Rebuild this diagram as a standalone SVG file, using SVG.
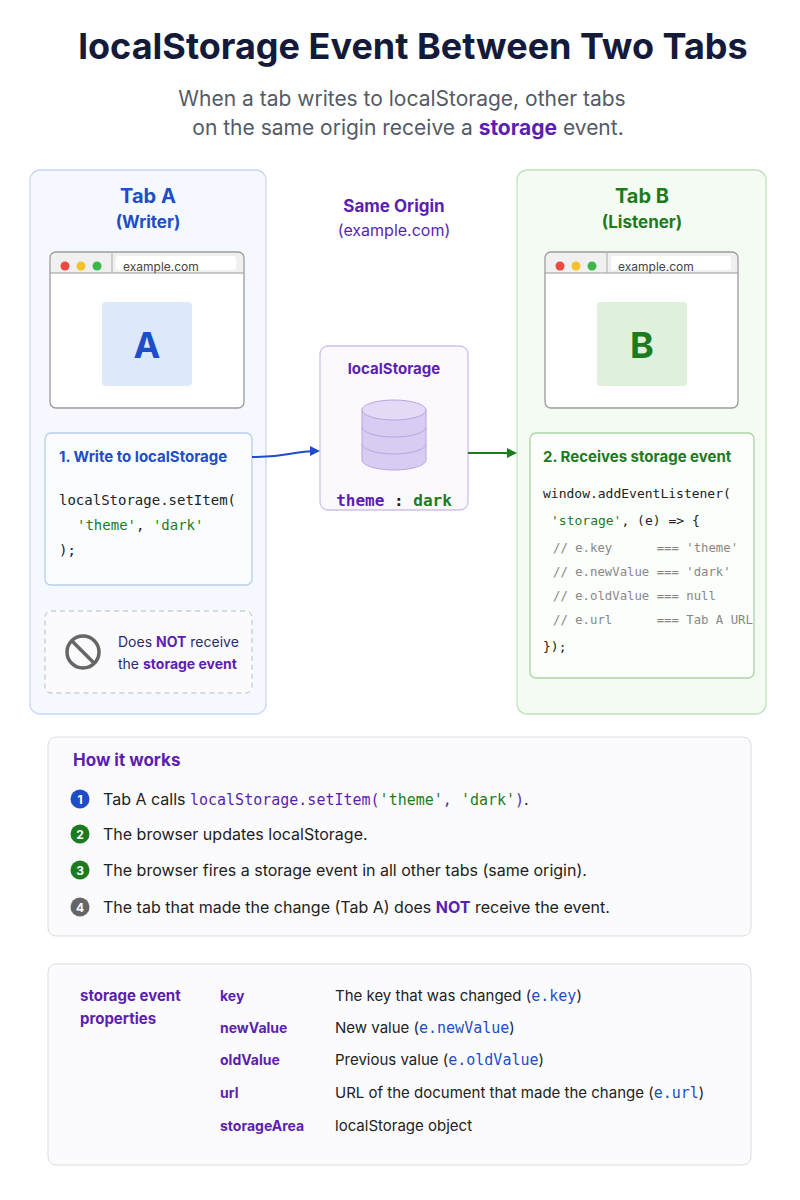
<svg xmlns="http://www.w3.org/2000/svg" width="800" height="1200" viewBox="0 0 800 1200">
<style>
text{font-family:Inter,"Liberation Sans",sans-serif;}
.mono{font-family:"DejaVu Sans Mono","Liberation Mono",monospace;}
.title{font-size:36px;font-weight:700;fill:#141a3a;text-anchor:middle}
.sub{font-size:21px;fill:#555a66;text-anchor:middle}
.pur{fill:#5b1fb0;font-weight:700}
.blue{fill:#1d4ec7}
.green{fill:#1e7a1e}
.code{font-size:14px;fill:#222}
.str{fill:#1e7a1e}
.cmt{fill:#888;font-size:12.3px}
.body{font-size:16px;fill:#222}
.win{fill:#fff;stroke:#9a9a9a;stroke-width:1.3}
.bar{fill:#f0f0f0}
.url{font-size:12px;fill:#444}
</style>
<defs>
<marker id="ab" markerWidth="10" markerHeight="10" refX="8" refY="5" orient="auto" markerUnits="userSpaceOnUse"><path d="M0,0 L10,5 L0,10 z" fill="#1d4ec7"/></marker>
<marker id="ag" markerWidth="10" markerHeight="10" refX="8" refY="5" orient="auto" markerUnits="userSpaceOnUse"><path d="M0,0 L10,5 L0,10 z" fill="#1e7a1e"/></marker>
</defs>
<rect width="800" height="1200" fill="#fff"/>
<text class="title" x="413" y="59">localStorage Event Between Two Tabs</text>
<text class="sub" x="402" y="106">When a tab writes to localStorage, other tabs</text>
<text class="sub" x="408" y="135">on the same origin receive a <tspan class="pur">storage</tspan> event.</text>

<g id="tabA">
<rect x="30" y="170" width="236" height="544" rx="10" fill="#f5f8fe" stroke="#c9d8f3" stroke-width="1.3"/>
<text x="148" y="203" text-anchor="middle" font-size="20" font-weight="700" class="blue">Tab A</text>
<text x="148" y="228" text-anchor="middle" font-size="17" font-weight="700" class="blue">(Writer)</text>
<rect class="win" x="50" y="252" width="194" height="156" rx="6"/>
<path d="M51,273 V258 a5,5 0 0 1 5,-5 H238 a5,5 0 0 1 5,5 V273 z" class="bar"/>
<line x1="50" y1="273" x2="244" y2="273" stroke="#9a9a9a"/>
<line x1="112" y1="253" x2="112" y2="273" stroke="#aaa"/>
<rect x="116" y="256" width="120" height="14" rx="3" fill="#fff"/>
<circle cx="65" cy="266" r="4.5" fill="#ea4a3f"/><circle cx="81" cy="266" r="4.5" fill="#f5c12e"/><circle cx="97" cy="266" r="4.5" fill="#3cb84a"/>
<text class="url" x="123" y="271">example.com</text>
<rect x="102" y="302" width="90" height="84" rx="4" fill="#dde8fa"/>
<text x="147" y="358" text-anchor="middle" font-size="36" font-weight="700" class="blue">A</text>
</g>

<g id="writeBox">
<rect x="45" y="433" width="207" height="152" rx="6" fill="#fafcff" stroke="#b9cdef" stroke-width="1.3"/>
<text x="59" y="462" font-size="15" font-weight="700" class="blue">1. Write to localStorage</text>
<text class="mono code" x="59" y="505">localStorage.setItem(</text>
<text class="mono code" x="77" y="530"><tspan class="str">'theme'</tspan>, <tspan class="str">'dark'</tspan></text>
<text class="mono code" x="59" y="555">);</text>
</g>

<g id="notReceive">
<rect x="45" y="611" width="207" height="82" rx="6" fill="#fbfbfd" stroke="#bbb" stroke-dasharray="5,4"/>
<circle cx="83" cy="652" r="16" fill="none" stroke="#666" stroke-width="3.5"/>
<line x1="72" y1="641" x2="94" y2="663" stroke="#666" stroke-width="3.5"/>
<text x="118" y="647" font-size="14" fill="#2a2a6a">Does <tspan class="pur">NOT</tspan> receive</text>
<text x="118" y="669" font-size="14" fill="#2a2a6a">the <tspan class="pur">storage event</tspan></text>
</g>

<g id="origin">
<text x="394" y="212" text-anchor="middle" font-size="17" class="pur">Same Origin</text>
<text x="394" y="236" text-anchor="middle" font-size="16" fill="#5b1fb0">(example.com)</text>
</g>

<g id="localStorage">
<rect x="320" y="346" width="148" height="164" rx="8" fill="#fbf9fe" stroke="#cfc0ea" stroke-width="1.3"/>
<text x="394" y="374" text-anchor="middle" font-size="15" class="pur">localStorage</text>
<path d="M362,410 V460 a32,10 0 0 0 64,0 V410" fill="#d9ccf3" stroke="#b8a6e0"/>
<ellipse cx="394" cy="410" rx="32" ry="10" fill="#e4daf7" stroke="#b8a6e0"/>
<path d="M362,427 a32,10 0 0 0 64,0 M362,444 a32,10 0 0 0 64,0" fill="none" stroke="#b8a6e0"/>
<text class="mono" x="394" y="506" text-anchor="middle" font-size="16" font-weight="700"><tspan fill="#5b1fb0">theme</tspan><tspan fill="#222"> : </tspan><tspan fill="#1e7a1e">dark</tspan></text>
</g>

<g id="tabB">
<rect x="517" y="170" width="249" height="544" rx="10" fill="#f4fbf3" stroke="#bfe0bd" stroke-width="1.3"/>
<text x="642" y="203" text-anchor="middle" font-size="20" font-weight="700" class="green">Tab B</text>
<text x="642" y="228" text-anchor="middle" font-size="17" font-weight="700" class="green">(Listener)</text>
<rect class="win" x="545" y="252" width="193" height="156" rx="6"/>
<path d="M546,273 V258 a5,5 0 0 1 5,-5 H732 a5,5 0 0 1 5,5 V273 z" class="bar"/>
<line x1="545" y1="273" x2="738" y2="273" stroke="#9a9a9a"/>
<line x1="607" y1="253" x2="607" y2="273" stroke="#aaa"/>
<rect x="611" y="256" width="120" height="14" rx="3" fill="#fff"/>
<circle cx="560" cy="266" r="4.5" fill="#ea4a3f"/><circle cx="576" cy="266" r="4.5" fill="#f5c12e"/><circle cx="592" cy="266" r="4.5" fill="#3cb84a"/>
<text class="url" x="618" y="271">example.com</text>
<rect x="597" y="302" width="90" height="84" rx="4" fill="#dff0dc"/>
<text x="642" y="358" text-anchor="middle" font-size="36" font-weight="700" class="green">B</text>
</g>

<g id="receiveBox">
<rect x="530" y="433" width="224" height="245" rx="6" fill="#fcfefb" stroke="#a8d6a5" stroke-width="1.3"/>
<text x="543" y="462" font-size="15" font-weight="700" class="green">2. Receives storage event</text>
<text class="mono" x="543" y="498" font-size="13" fill="#222">window.addEventListener(</text>
<text class="mono" x="551" y="525" font-size="13" fill="#222"><tspan class="str">'storage'</tspan>, (e) =&gt; {</text>
<text class="mono cmt" x="553" y="552" xml:space="preserve">// e.key      === 'theme'</text>
<text class="mono cmt" x="553" y="576">// e.newValue === 'dark'</text>
<text class="mono cmt" x="553" y="600">// e.oldValue === null</text>
<text class="mono cmt" x="553" y="624" xml:space="preserve">// e.url      === Tab A URL</text>
<text class="mono" x="543" y="651" font-size="13" fill="#222">});</text>
</g>

<g id="connectors">
<path d="M252,457 C285,458 290,451 318,451" fill="none" stroke="#1d4ec7" stroke-width="2" marker-end="url(#ab)"/>
<path d="M468,453 H515" fill="none" stroke="#1e7a1e" stroke-width="2" marker-end="url(#ag)"/>
</g>

<g id="howItWorks">
<rect x="48" y="737" width="703" height="199" rx="8" fill="#fbfbfd" stroke="#ddd"/>
<text x="73" y="766" font-size="17" class="pur">How it works</text>
<circle cx="80" cy="799" r="9.5" fill="#1d4ec7"/><text x="80" y="804" text-anchor="middle" font-size="12" font-weight="700" fill="#fff">1</text>
<text class="body" x="103" y="805">Tab A calls <tspan class="mono" fill="#5b1fb0" font-size="15">localStorage.setItem(</tspan><tspan class="mono" fill="#1e7a1e" font-size="15">'theme'</tspan><tspan class="mono" fill="#5b1fb0" font-size="15">, </tspan><tspan class="mono" fill="#1e7a1e" font-size="15">'dark'</tspan><tspan class="mono" fill="#5b1fb0" font-size="15">)</tspan>.</text>
<circle cx="80" cy="834" r="9.5" fill="#1e7a1e"/><text x="80" y="839" text-anchor="middle" font-size="12" font-weight="700" fill="#fff">2</text>
<text class="body" x="103" y="840">The browser updates localStorage.</text>
<circle cx="80" cy="870" r="9.5" fill="#1e7a1e"/><text x="80" y="875" text-anchor="middle" font-size="12" font-weight="700" fill="#fff">3</text>
<text class="body" x="103" y="876">The browser fires a storage event in all other tabs (same origin).</text>
<circle cx="80" cy="907" r="9.5" fill="#666"/><text x="80" y="912" text-anchor="middle" font-size="12" font-weight="700" fill="#fff">4</text>
<text class="body" x="103" y="913">The tab that made the change (Tab A) does <tspan class="pur">NOT</tspan> receive the event.</text>
</g>

<g id="properties">
<rect x="48" y="964" width="703" height="201" rx="8" fill="#fbfbfd" stroke="#ddd"/>
<text x="80" y="1001" font-size="15" class="pur">storage event</text>
<text x="80" y="1024" font-size="15" class="pur">properties</text>
<g font-size="14">
<text x="220" y="1001" class="pur">key</text><text x="335" y="1001" fill="#222" font-size="15">The key that was changed (<tspan class="mono" fill="#1d4ec7">e.key</tspan>)</text>
<text x="220" y="1033" class="pur">newValue</text><text x="335" y="1033" fill="#222" font-size="15">New value (<tspan class="mono" fill="#1d4ec7">e.newValue</tspan>)</text>
<text x="220" y="1065" class="pur">oldValue</text><text x="335" y="1065" fill="#222" font-size="15">Previous value (<tspan class="mono" fill="#1d4ec7">e.oldValue</tspan>)</text>
<text x="220" y="1098" class="pur">url</text><text x="335" y="1098" fill="#222" font-size="15">URL of the document that made the change (<tspan class="mono" fill="#1d4ec7">e.url</tspan>)</text>
<text x="220" y="1131" class="pur">storageArea</text><text x="335" y="1131" fill="#222" font-size="15">localStorage object</text>
</g>
</g>
</svg>
